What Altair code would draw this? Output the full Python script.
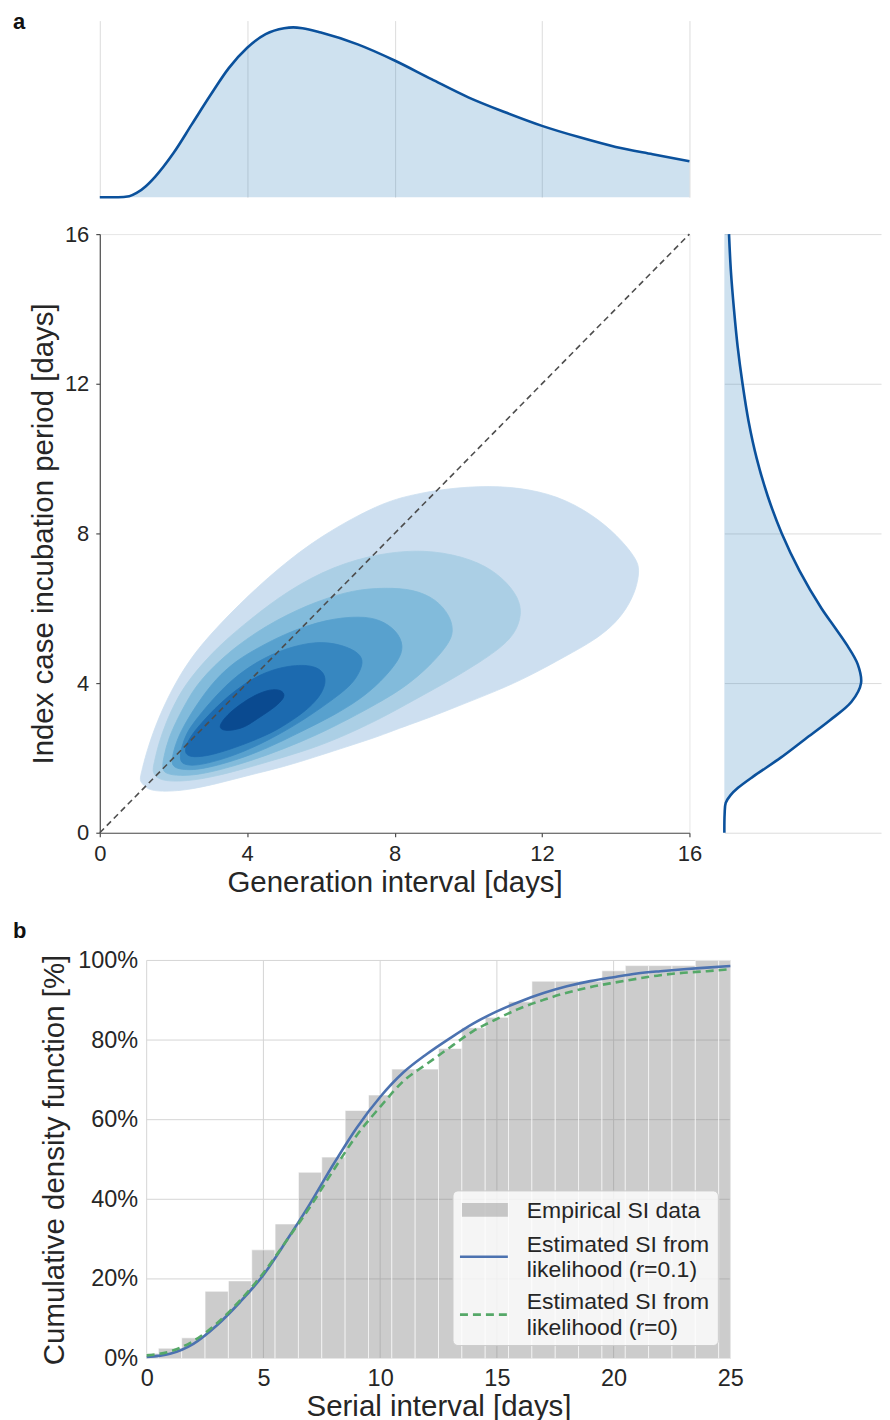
import altair as alt
import pandas as pd

FONT = "Liberation Sans"
INK = "#262626"

# ---------------- panel a : marginal densities (relative to peak) ----------------
gen_x = [0, 0.5, 0.8, 1.0, 1.25, 1.5, 2.0, 2.5, 3.0, 3.5, 4.0, 4.5, 5.0, 5.25, 5.5, 6.0,
         7.0, 8.0, 9.0, 10.0, 11.0, 12.0, 13.0, 14.0, 15.0, 16.0]
gen_dens = [0, 0, 0.006, 0.025, 0.065, 0.12, 0.26, 0.43, 0.60, 0.76, 0.88, 0.96, 0.995, 1.0, 0.995, 0.97,
            0.90, 0.805, 0.695, 0.588, 0.50, 0.42, 0.354, 0.296, 0.253, 0.212]

inc_y = [0, 0.5, 0.8, 1.0, 1.2, 1.5, 2.0, 2.5, 3.0, 3.5, 4.0, 4.5, 5.0, 5.5, 6.0,
         7.0, 8.0, 9.0, 10.0, 11.0, 12.0, 13.0, 14.0, 15.0, 16.0]
inc_dens = [0, 0.002, 0.01, 0.044, 0.10, 0.21, 0.41, 0.59, 0.77, 0.93, 1.0, 0.976, 0.90, 0.806, 0.71,
            0.55, 0.42, 0.317, 0.237, 0.177, 0.133, 0.097, 0.07, 0.048, 0.034]

# ---------------- panel a : joint density contour outlines (outer -> inner) ----------------
c1_x = [1.08, 1.13, 1.29, 1.61, 2.10, 2.70, 3.82, 4.81, 5.98, 7.61, 8.51, 9.41, 10.58, 11.67, 12.66, 13.56,
        14.19, 14.56, 14.65, 14.56, 14.29, 13.92, 13.38, 12.66, 11.67, 10.77, 9.86, 8.96, 8.06, 7.61,
        6.80, 5.89, 4.99, 4.09, 3.19, 2.28, 1.56, 1.29, 1.16]
c1_y = [1.40, 1.62, 2.24, 3.13, 4.11, 5.00, 6.15, 7.04, 7.93, 8.81, 9.04, 9.20, 9.28, 9.19, 8.91, 8.37,
        7.79, 7.31, 7.04, 6.51, 5.97, 5.53, 5.12, 4.73, 4.19, 3.79, 3.44, 3.08, 2.77, 2.59,
        2.33, 2.04, 1.76, 1.55, 1.31, 1.12, 1.10, 1.17, 1.30]
c2_x = [1.42, 1.47, 1.60, 1.80, 2.05, 2.42, 3.20, 4.09, 5.08, 6.34, 7.61, 8.78, 9.86, 10.67, 11.22, 11.44,
        11.40, 11.13, 10.31, 9.41, 8.51, 7.61, 6.34, 5.44, 4.54, 3.64, 2.73, 2.00, 1.60]
c2_y = [1.60, 1.85, 2.40, 2.95, 3.50, 4.11, 4.98, 5.71, 6.46, 7.13, 7.47, 7.57, 7.39, 7.04, 6.51, 6.06,
        5.62, 5.12, 4.55, 4.02, 3.54, 3.04, 2.46, 2.15, 1.89, 1.63, 1.42, 1.36, 1.42]
c3_x = [1.68, 1.74, 1.86, 2.06, 2.35, 2.73, 3.68, 4.81, 5.89, 6.88, 7.73, 8.51, 9.14, 9.50, 9.59, 9.52,
        8.96, 8.33, 7.61, 6.34, 5.44, 4.54, 3.64, 2.73, 2.15, 1.82]
c3_y = [1.68, 2.05, 2.50, 2.95, 3.50, 4.11, 5.00, 5.71, 6.19, 6.49, 6.55, 6.51, 6.24, 5.79, 5.44, 5.10,
        4.46, 3.93, 3.49, 2.82, 2.42, 2.07, 1.78, 1.55, 1.52, 1.57]
c4_x = [1.93, 1.98, 2.10, 2.33, 2.68, 3.14, 3.70, 4.27, 5.08, 6.16, 7.07, 7.61, 8.06, 8.25, 8.12, 7.61,
        7.07, 6.34, 5.44, 4.54, 3.64, 2.73, 2.20]
c4_y = [1.78, 2.10, 2.50, 2.95, 3.50, 4.11, 4.60, 4.93, 5.35, 5.71, 5.79, 5.70, 5.40, 5.00, 4.60, 4.02,
        3.57, 3.13, 2.69, 2.25, 1.92, 1.68, 1.68]
c5_x = [2.15, 2.22, 2.35, 2.55, 3.00, 3.59, 4.30, 5.04, 5.90, 6.60, 7.05, 7.16, 7.00, 6.80, 6.34, 5.44,
        4.54, 3.64, 2.73, 2.35]
c5_y = [1.90, 2.30, 2.65, 2.95, 3.50, 4.11, 4.60, 4.93, 5.13, 5.02, 4.80, 4.55, 4.20, 3.93, 3.57, 2.95,
        2.45, 2.05, 1.80, 1.80]
c6_x = [2.27, 2.40, 2.76, 3.46, 4.36, 5.26, 5.89, 6.16, 6.07, 5.62, 4.90, 4.54, 4.00, 3.10, 2.50]
c6_y = [2.12, 2.50, 2.95, 3.66, 4.28, 4.50, 4.46, 4.19, 3.75, 3.26, 2.80, 2.62, 2.39, 2.08, 2.00]
c7_x = [3.23, 3.45, 3.82, 4.20, 4.63, 4.92, 5.04, 4.90, 4.60, 4.20, 3.91, 3.50, 3.30]
c7_y = [2.86, 3.15, 3.44, 3.68, 3.84, 3.82, 3.68, 3.48, 3.25, 3.00, 2.80, 2.72, 2.75]
contour_colors = ["#cddff0", "#abcfe5", "#82bbdb", "#58a1ce", "#3787c0", "#1c6aaf", "#0a4a90"]

diag_x = [0, 16]
diag_y = [0, 16]

# ---------------- panel b : cumulative serial interval ----------------
si_bin_center = list(range(26))
si_cum_pct = [1.3, 2.6, 5.2, 16.9, 19.5, 27.3, 33.8, 46.8, 50.6, 62.3, 66.2, 72.7, 72.7,
              77.9, 83.1, 85.7, 89.6, 94.8, 94.8, 94.8, 97.4, 98.7, 98.7, 98.7, 100.0, 100.0]
fit_x = list(range(26))
fit_r01 = [0.4, 1.2, 3.7, 8.3, 14.2, 21.0, 29.7, 38.9, 48.8, 58.0, 65.7, 71.9, 76.5, 80.5, 84.2,
           87.2, 89.7, 91.8, 93.5, 94.8, 95.8, 96.7, 97.3, 97.8, 98.2, 98.6]
fit_r0 = [0.8, 1.8, 4.4, 8.8, 14.6, 21.5, 29.7, 38.1, 47.3, 56.1, 63.2, 69.7, 74.0, 78.2, 82.3,
          85.3, 88.0, 90.1, 91.9, 93.3, 94.4, 95.4, 96.3, 96.9, 97.3, 97.8]
si_ticks_x = [0, 5, 10, 15, 20, 25]
si_ticks_y = [0, 20, 40, 60, 80, 100]
legend_labels = ["Empirical SI data", "Estimated SI from", "likelihood (r=0.1)",
                 "Estimated SI from", "likelihood (r=0)"]

one = pd.DataFrame({"k": [0]})


def blank(w, h):
    return alt.Chart(one).mark_point(opacity=0).encode(
        x=alt.value(0), y=alt.value(0)).properties(width=w, height=h)


# ---------------- top marginal ----------------
top_df = pd.DataFrame({"x": gen_x, "d": gen_dens})
top_area = alt.Chart(top_df).mark_area(color="#3182bd", opacity=0.24, interpolate="monotone").encode(
    x=alt.X("x:Q", scale=alt.Scale(domain=[0, 16], nice=False, zero=False),
            axis=alt.Axis(values=[0, 4, 8, 12, 16], grid=True, gridColor="#dcdcdc", labels=False,
                          ticks=False, domain=False, title=None)),
    y=alt.Y("d:Q", scale=alt.Scale(domain=[0, 1.04], nice=False), axis=None),
)
top_line = alt.Chart(top_df).mark_line(color="#0b519c", strokeWidth=2.6, interpolate="monotone").encode(
    x="x:Q", y="d:Q")
a_txt = alt.Chart(one).mark_text(text="a", fontSize=22, fontWeight="bold", font=FONT, color="#111111",
                                 align="left", baseline="alphabetic").encode(
    x=alt.value(-87), y=alt.value(8))
top = alt.layer(top_area, top_line, a_txt).properties(width=591, height=177)

# ---------------- main joint plot ----------------
ax_common = dict(values=[0, 4, 8, 12, 16], grid=False, domainColor="#4d4d4d", domainWidth=1.2,
                 tickColor="#4d4d4d", tickWidth=1.2, tickSize=4, labelPadding=7, format="d",
                 labelFlush=False, labelFontSize=22)
contours = [(c1_x, c1_y), (c2_x, c2_y), (c3_x, c3_y), (c4_x, c4_y), (c5_x, c5_y), (c6_x, c6_y), (c7_x, c7_y)]
layers = []
for i, ((cx, cy), col) in enumerate(zip(contours, contour_colors)):
    df = pd.DataFrame({"x": cx, "y": cy, "i": list(range(len(cx)))})
    if i == 0:
        ex = alt.X("x:Q", scale=alt.Scale(domain=[0, 16], nice=False),
                   axis=alt.Axis(title="Generation interval [days]", titlePadding=4, **ax_common))
        ey = alt.Y("y:Q", scale=alt.Scale(domain=[0, 16], nice=False),
                   axis=alt.Axis(title="Index case incubation period [days]", titlePadding=6, **ax_common))
    else:
        ex = alt.X("x:Q")
        ey = alt.Y("y:Q")
    layers.append(
        alt.Chart(df).mark_line(interpolate="basis-closed", fill=col, stroke=col, strokeWidth=0.8)
        .encode(x=ex, y=ey, order="i:Q"))
diag = alt.Chart(pd.DataFrame({"x": diag_x, "y": diag_y})).mark_line(
    color="#4d4d4d", strokeWidth=1.6, strokeDash=[6, 4]).encode(x="x:Q", y="y:Q")
main = alt.layer(*layers, diag).properties(width=591, height=600,
                                           view=alt.ViewBackground(stroke="#e6e6e6"))

# ---------------- right marginal ----------------
r_df = pd.DataFrame({"y": inc_y, "d": inc_dens})
right_area = alt.Chart(r_df).mark_area(orient="horizontal", color="#3182bd", opacity=0.24,
                                       interpolate="catmull-rom").encode(
    y=alt.Y("y:Q", scale=alt.Scale(domain=[0, 16], nice=False),
            axis=alt.Axis(values=[0, 4, 8, 12, 16], grid=True, gridColor="#dcdcdc", labels=False,
                          ticks=False, domain=False, title=None)),
    x=alt.X("d:Q", scale=alt.Scale(domain=[0, 1.146], nice=False), axis=None),
)
right_line = alt.Chart(r_df).mark_line(color="#0b519c", strokeWidth=2.6, interpolate="catmull-rom").encode(
    y="y:Q", x="d:Q", order="y:Q")
right = alt.layer(right_area, right_line).properties(width=157, height=600)

# ---------------- panel b ----------------
# plot area of panel b sits 47 px right of panel a's plot area: the x scale range starts at 47
bx_scale = alt.Scale(domain=[0, 25], nice=False, range=[47, 632], clamp=True)
by_scale = alt.Scale(domain=[0, 100], nice=False)
GRID = "#d5d5d5"
vgrid = alt.Chart(pd.DataFrame({"g": si_ticks_x})).mark_rule(color=GRID, strokeWidth=1).encode(
    x=alt.X("g:Q", scale=bx_scale,
            axis=alt.Axis(values=si_ticks_x, grid=False, domain=False, ticks=False, labelPadding=8,
                          labelFlush=False, labelFontSize=23.5,
                          title="Serial interval [days]", titlePadding=3)),
    y=alt.datum(0, scale=by_scale), y2=alt.datum(100))
hgrid = alt.Chart(pd.DataFrame({"g": si_ticks_y})).mark_rule(color=GRID, strokeWidth=1).encode(
    y=alt.Y("g:Q", scale=by_scale,
            axis=alt.Axis(values=si_ticks_y, labelExpr="datum.value + '%'", grid=False, domain=False,
                          ticks=False, labelPadding=9, offset=-47, labelFlush=False, labelFontSize=23.5,
                          title="Cumulative density function [%]", titlePadding=8)),
    x=alt.datum(0), x2=alt.datum(25))
bins = pd.DataFrame({"lo": [c - 0.5 for c in si_bin_center],
                     "hi": [c + 0.5 for c in si_bin_center],
                     "p": si_cum_pct})
bars = alt.Chart(bins).mark_rect(fill="#808080", fillOpacity=0.4, stroke="#ffffff",
                                 strokeOpacity=0.6, strokeWidth=1).encode(
    x=alt.X("lo:Q"), x2="hi:Q", y=alt.Y("p:Q"), y2=alt.datum(0))
fit_df = pd.DataFrame({"x": fit_x, "a": fit_r01, "b": fit_r0})
line_a = alt.Chart(fit_df).mark_line(color="#4c72b0", strokeWidth=2.6, interpolate="monotone").encode(
    x="x:Q", y="a:Q")
line_b = alt.Chart(fit_df).mark_line(color="#55a868", strokeWidth=2.6, strokeDash=[8, 5],
                                     interpolate="monotone").encode(x="x:Q", y="b:Q")

LX = 47
leg_box = alt.Chart(one).mark_rect(fill="#ffffff", fillOpacity=0.8, stroke="#cccccc", strokeWidth=1,
                                   cornerRadius=5).encode(
    x=alt.value(LX + 307), x2=alt.value(LX + 573), y=alt.value(231), y2=alt.value(386))
leg_patch = alt.Chart(one).mark_rect(fill="#808080", fillOpacity=0.4).encode(
    x=alt.value(LX + 316), x2=alt.value(LX + 362), y=alt.value(243), y2=alt.value(257))
leg_l1 = alt.Chart(one).mark_rule(color="#4c72b0", strokeWidth=2.6).encode(
    x=alt.value(LX + 314), x2=alt.value(LX + 362), y=alt.value(297))
leg_l2 = alt.Chart(one).mark_rule(color="#55a868", strokeWidth=2.6, strokeDash=[8, 5]).encode(
    x=alt.value(LX + 314), x2=alt.value(LX + 362), y=alt.value(355))
leg_y = [258, 292, 317, 349, 375]
leg_txt = [alt.Chart(one).mark_text(text=t, fontSize=23, font=FONT, color=INK, align="left",
                                    baseline="alphabetic").encode(x=alt.value(LX + 381), y=alt.value(yy))
           for t, yy in zip(legend_labels, leg_y)]
b_txt = alt.Chart(one).mark_text(text="b", fontSize=22, fontWeight="bold", font=FONT, color="#111111",
                                 align="left", baseline="alphabetic").encode(
    x=alt.value(-87), y=alt.value(-22))
panel_b = alt.layer(vgrid, hgrid, bars, line_a, line_b, leg_box, leg_patch, leg_l1, leg_l2,
                    *leg_txt, b_txt).properties(width=591, height=399)

chart = alt.concat(
    top, blank(1, 1),
    main, right,
    blank(1, 54), blank(1, 1),
    panel_b, blank(1, 1),
    columns=2,
    spacing={"row": 37, "column": 35},
    bounds="flush",
    align="each",
).properties(
    padding={"left": 4, "top": 0, "right": 0, "bottom": 0}
).configure(font=FONT).configure_axis(
    labelFont=FONT, titleFont=FONT, labelFontSize=22, titleFontSize=29.5,
    labelColor=INK, titleColor=INK, titleFontWeight="normal"
).configure_view(stroke="transparent")

chart.save("out.html", embed_options={"renderer": "svg", "actions": False})
